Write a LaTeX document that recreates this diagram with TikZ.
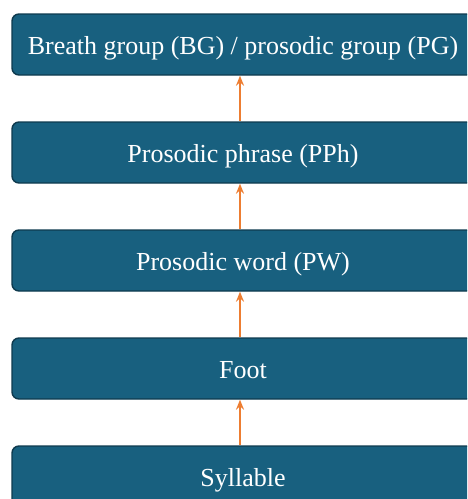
\documentclass[tikz,border=0pt]{standalone}
\usepackage{fontspec}
\setmainfont{Liberation Serif}
\usetikzlibrary{arrows.meta}
\definecolor{boxfill}{HTML}{18607F}
\definecolor{boxline}{HTML}{0E3A4E}
\definecolor{arroworange}{HTML}{ED7D31}
\begin{document}
\begin{tikzpicture}[x=1pt,y=-1pt,
  levelbox/.style={draw=boxline, line width=1.4pt, fill=boxfill, rounded corners=7pt,
    minimum width=462pt, minimum height=61pt, inner sep=0pt, text=white,
    text height=19pt, text depth=0pt,
    font=\fontsize{26}{30}\selectfont},
  uparrow/.style={draw=arroworange, line width=1.6pt, -{Stealth[length=10pt,width=8pt]}}]
\clip (0,0) rectangle (467,499);
\node[levelbox] (bg) at (243,44.5) {Breath group (BG) / prosodic group (PG)};
\node[levelbox] (pph) at (243,152.5) {Prosodic phrase (PPh)};
\node[levelbox] (pw) at (243,260.5) {Prosodic word (PW)};
\node[levelbox] (ft) at (243,368.5) {Foot};
\node[levelbox] (syl) at (243,476.5) {Syllable};
\draw[uparrow] ([xshift=-3pt]syl.north) -- ([xshift=-3pt]ft.south);
\draw[uparrow] ([xshift=-3pt]ft.north) -- ([xshift=-3pt]pw.south);
\draw[uparrow] ([xshift=-3pt]pw.north) -- ([xshift=-3pt]pph.south);
\draw[uparrow] ([xshift=-3pt]pph.north) -- ([xshift=-3pt]bg.south);
\end{tikzpicture}
\end{document}
